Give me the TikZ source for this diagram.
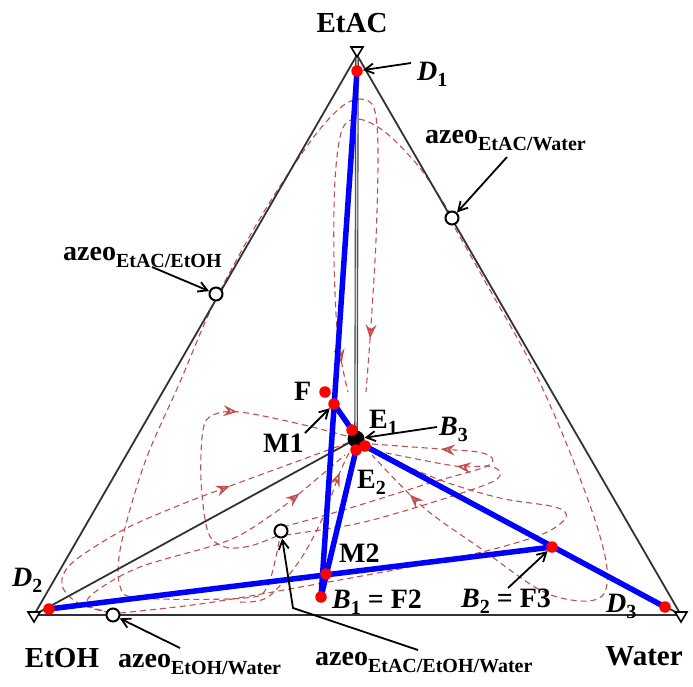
\documentclass[tikz,border=0pt]{standalone}
\usepackage{fontspec}
\setmainfont{Liberation Serif}
\usetikzlibrary{arrows.meta,decorations.markings}
\definecolor{rc}{RGB}{192,80,77}
\definecolor{edgec}{RGB}{50,50,50}
\newcommand{\azlab}[1]{azeo\raisebox{-7pt}{\fontsize{20}{20}\selectfont #1}}
\newcommand{\sbs}[1]{\raisebox{-6pt}{\fontsize{20}{20}\selectfont #1}}
\pgfdeclarelayer{back}
\pgfdeclarelayer{mid}
\pgfsetlayers{back,mid,main}
\begin{document}
\begin{tikzpicture}[x=1pt,y=-1pt,
  side/.style={draw=edgec, line width=1.8pt},
  bl/.style={draw=blue, line width=5.5pt, line cap=round},
  rdot/.style={circle, fill=red, inner sep=0pt, minimum size=11.5pt},
  odot/.style={circle, draw=black, fill=white, line width=2pt, inner sep=0pt, minimum size=13pt},
  lab/.style={font=\fontsize{28}{28}\selectfont\bfseries, inner sep=0pt, anchor=base west},
  big/.style={font=\fontsize{29}{29}\selectfont\bfseries, inner sep=0pt, anchor=base},
  note/.style={draw=black, line width=1.8pt, -{Straight Barb[length=9pt,width=10pt,line width=1.8pt]}},
  resid/.style={draw=rc, line width=1.1pt, dash pattern=on 6pt off 4pt},
  marr/.style={postaction={decorate,decoration={markings,mark=at position #1 with {\arrow[rc,solid]{Stealth[length=14pt,width=11pt,inset=5pt,open,line width=1.6pt]}}}}},
  vmark/.style={draw=black, fill=white, line width=1.6pt, line join=miter}
]
\useasboundingbox (0,0) rectangle (693,686);

% vertices
\coordinate (T) at (357,55);
\coordinate (L) at (34,615);
\coordinate (R) at (681,615);

% points
\node[rdot] (D1) at (357,71) {};
\node[rdot] (F) at (325,392) {};
\node[rdot] (M1) at (334,404) {};
\node[circle, fill=black, inner sep=0pt, minimum size=17pt] (C) at (356,439) {};
\node[rdot] (E1) at (352,430) {};
\node[rdot] (E2) at (356,450) {};
\node[rdot] (B3) at (365,446) {};
\node[rdot] (M2) at (326,574) {};
\node[rdot] (B1) at (321,597) {};
\node[rdot] (B2) at (552,547) {};
\node[rdot] (D3) at (665,607) {};
\node[rdot] (D2) at (49,609) {};

% azeotropes
\node[odot] (azW) at (452,218) {};
\node[odot] (azE) at (216,294) {};
\node[odot] (azEW) at (113,615) {};
\node[odot] (tern) at (281,531) {};

% residue curves
\begin{pgfonlayer}{back}
\draw[resid, marr=0.95] plot[smooth, tension=0.55] coordinates {(281,531) (268,585) (245,598) (140,598) (120,586) (121,545) (145,462) (180,382) (214,303) (262,215) (310,142) (340,108) (360,99) (374,108) (378,150) (376,240) (371,325) (366,392)};
\draw[resid, marr=0.93] plot[smooth, tension=0.55] coordinates {(451,215) (420,168) (385,132) (358,119) (342,130) (335,180) (334,260) (338,340) (348,392)};
\draw[resid, marr=0.92] plot[smooth, tension=0.55] coordinates {(455,228) (490,290) (530,362) (565,440) (595,520) (607,568) (603,595) (580,601) (540,590) (480,548) (423,507) (372,455)};
\draw[resid] plot[smooth, tension=0.55] coordinates {(120,613) (207,603) (323,583) (420,565) (490,550) (545,533) (566,517) (555,507) (500,498) (440,480) (375,452)};
\draw[resid, marr=0.8] plot[smooth, tension=0.55] coordinates {(283,527) (350,508) (430,483) (485,467) (492,458) (478,452) (440,449) (372,444)};
\draw[resid, marr=0.76] plot[smooth, tension=0.55] coordinates {(285,535) (360,523) (440,500) (492,482) (500,472) (488,466) (455,466) (372,450)};
\draw[resid, marr=0.66] plot[smooth, tension=0.55] coordinates {(277,536) (250,546) (225,547) (208,532) (201,480) (203,430) (213,415) (240,412) (300,424) (350,437)};
\draw[resid, marr=0.67] plot[smooth, tension=0.55] coordinates {(110,613) (78,603) (62,585) (72,563) (123,530) (180,505) (230,486) (290,464) (350,442)};
\draw[resid, marr=0.82] plot[smooth, tension=0.55] coordinates {(112,613) (88,605) (95,592) (140,567) (227,541) (270,516) (300,493) (345,455)};
\draw[resid, marr=0.86] plot[smooth, tension=0.55] coordinates {(240,602) (268,597) (300,560) (324,515) (340,472) (352,447)};
\end{pgfonlayer}

\begin{pgfonlayer}{mid}
% triangle
\draw[side] (L) -- (T) -- (R) -- cycle;
% boundaries
\draw[draw=gray!55!black, double=gray!30, double distance=1.4pt, line width=1.1pt] (T) -- (C.center);
\draw[side] (L) -- (C.center);
\draw[side] (C.center) -- (R);
% blue lines
\draw[bl] (D1.center) -- (B1.center);
\draw[bl] (E2.center) -- (B1.center);
\draw[bl] (M1.center) -- (E1.center) -- (B3.center) -- (D3.center);
\draw[bl] (D2.center) -- (B2.center);
\end{pgfonlayer}

% vertex markers
\draw[vmark, shift={(T)}] (-6,-8) -- (6,-8) -- (0,2) -- cycle;
\draw[vmark, shift={(L)}] (-6,-3) -- (6,-3) -- (0,7) -- cycle;
\draw[vmark, shift={(R)}] (-6,-3) -- (6,-3) -- (0,7) -- cycle;

% labels
\node[big] (lT) at (352,32) {EtAC};
\node[big] (lL) at (62,667) {EtOH};
\node[big] (lR) at (644,665) {Water};
\node[lab] (lazEW) at (118,667) {\azlab{EtOH/Water}};
\node[lab] (ltern) at (315,665) {\azlab{EtAC/EtOH/Water}};
\node[lab] (lazW) at (425,143) {\azlab{EtAC/Water}};
\node[lab] (lazE) at (63,260) {\azlab{EtAC/EtOH}};
\node[lab] (lD1) at (417,80) {{\itshape D}\sbs{1}};
\node[lab] (lD2) at (12,586) {{\itshape D}\sbs{2}};
\node[lab] (lD3) at (606,612) {{\itshape D}\sbs{3}};
\node[lab] (lF) at (294,400) {F};
\node[lab] (lM1) at (263,452) {M1};
\node[lab] (lE1) at (369,428) {E\sbs{1}};
\node[lab] (lE2) at (357,488) {E\sbs{2}};
\node[lab] (lB3) at (439,435) {{\itshape B}\sbs{3}};
\node[lab] (lM2) at (339,562) {M2};
\node[lab] (lB1) at (332,608) {{\itshape B}\sbs{1} = F2};
\node[lab] (lB2) at (461,607) {{\itshape B}\sbs{2} = F3};

% annotation arrows
\coordinate (tD1) at (411,63);
\coordinate (tAW) at (507,157);
\coordinate (tAE) at (152,267);
\coordinate (tEW) at (180,648);
\coordinate (tT) at (418,650);
\coordinate (kT) at (293,608);
\coordinate (tM1) at (305,433);
\coordinate (tB3) at (437,427);
\coordinate (tB2) at (508,588);
\draw[note] (tD1) -- (D1);
\draw[note] (tAW) -- (azW);
\draw[note] (tAE) -- (azE);
\draw[note] (tEW) -- (azEW);
\draw[note] (tT) -- (kT) -- (tern);
\draw[note] (tM1) -- (M1);
\draw[note] (tB3) -- (C);
\draw[note] (tB2) -- (B2);
\end{tikzpicture}
\end{document}
